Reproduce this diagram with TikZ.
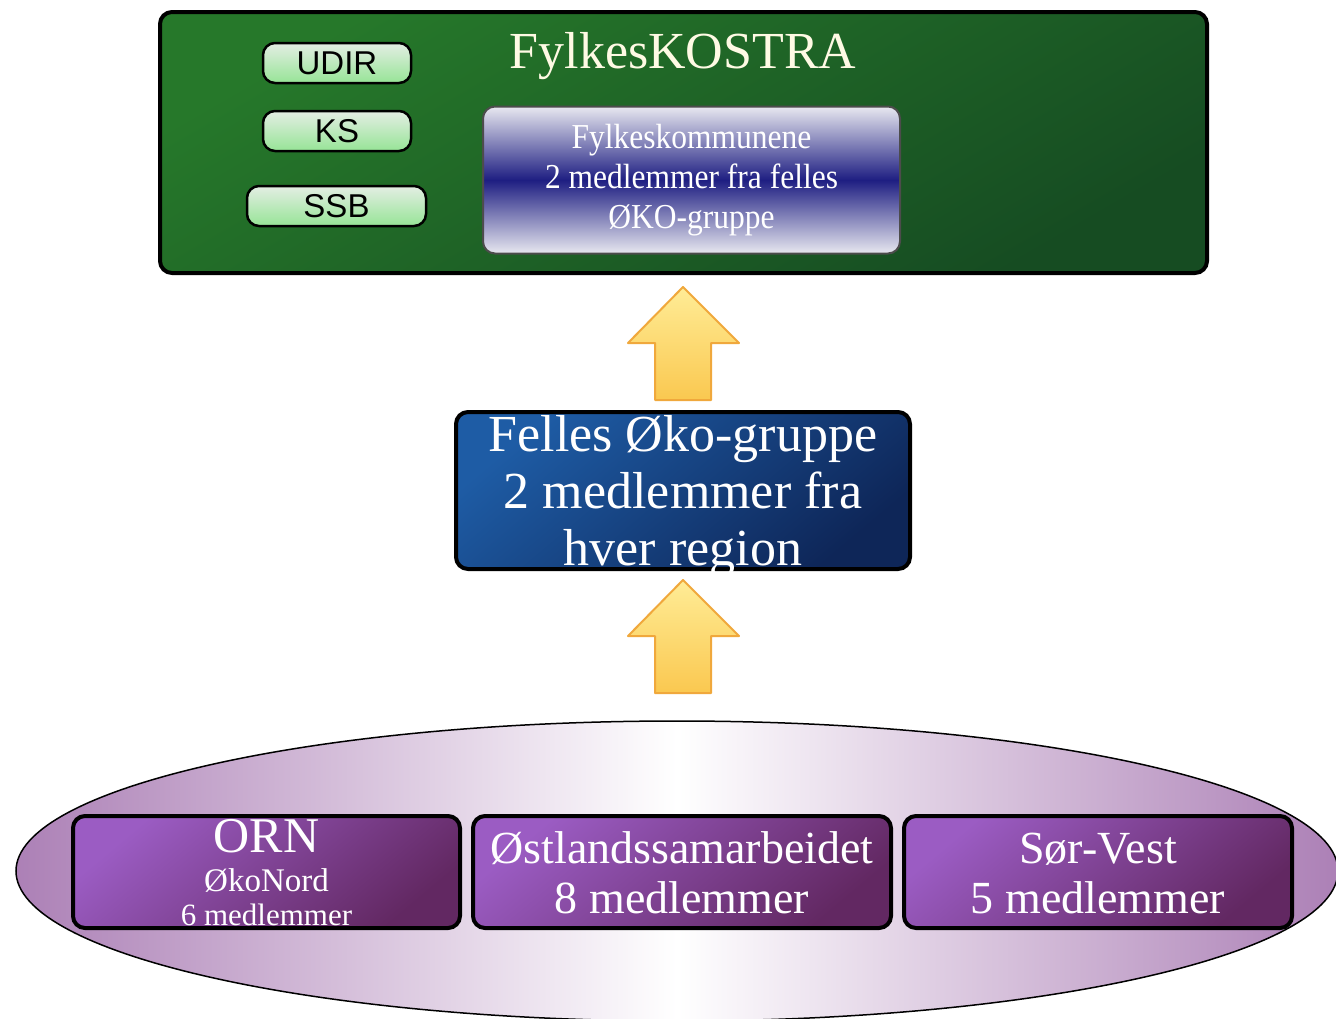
\documentclass[tikz,border=0pt]{standalone}
\usepackage{fontspec}
\setmainfont{Liberation Serif}
\newfontfamily\pillfont{Liberation Sans}
\newfontfamily\narrowserif[FakeStretch=0.9]{Liberation Serif}
\usetikzlibrary{shapes.geometric}
\definecolor{greenA}{RGB}{38,120,42}
\definecolor{greenB}{RGB}{22,76,34}
\definecolor{pillTop}{RGB}{228,238,228}
\definecolor{pillBot}{RGB}{150,228,150}
\definecolor{navyMid}{RGB}{30,30,130}
\definecolor{greyEnd}{RGB}{232,232,240}
\definecolor{blueA}{RGB}{30,92,165}
\definecolor{blueB}{RGB}{14,38,88}
\definecolor{purpA}{RGB}{155,92,195}
\definecolor{purpB}{RGB}{98,40,98}
\definecolor{ellPurp}{RGB}{172,128,182}
\definecolor{arrTop}{RGB}{255,236,150}
\definecolor{arrBot}{RGB}{250,200,80}
\definecolor{arrEdge}{RGB}{240,168,60}
\definecolor{cream}{RGB}{255,250,228}
\tikzset{
  box/.style={draw=black, line width=4pt, rounded corners=12pt, inner sep=0pt},
  greenbox/.style={box, top color=greenA, bottom color=greenB, shading angle=30},
  pillbox/.style={draw=black, line width=2.5pt, rounded corners=12pt, top color=pillTop, bottom color=pillBot, inner sep=0pt, text=black, font=\pillfont\fontsize{33}{36}\selectfont},
  navybox/.style={draw=black!70, line width=2pt, rounded corners=12pt, top color=greyEnd, bottom color=greyEnd, middle color=navyMid, inner sep=0pt, text=white, align=center, font=\narrowserif\fontsize{35}{40}\selectfont},
  bluebox/.style={box, top color=blueA, bottom color=blueB, shading angle=40},
  purpbox/.style={box, top color=purpA, bottom color=purpB, shading angle=40},
  purptext/.style={text=white, align=center, inner sep=0pt},
  blockarrow/.style={draw=arrEdge, line width=2pt, line join=round, top color=arrTop, bottom color=arrBot},
}
\begin{document}
\begin{tikzpicture}[x=1pt,y=-1pt]
\useasboundingbox (0,0) rectangle (1336,1018);
\fill[white] (0,0) rectangle (1336,1018);
% bottom ellipse
\begin{scope}
\clip (0,0) rectangle (1336,1018);
\node[ellipse, draw=black, line width=1.5pt, minimum width=1322pt, minimum height=300pt, inner sep=0pt,
      left color=ellPurp, right color=ellPurp, middle color=white] (regions) at (677,871) {};
\end{scope}
% top box
\node[greenbox, minimum width=1047pt, minimum height=261pt] (kostra) at (683.5,142.5) {};
\node[text=cream, font=\fontsize{52}{56}\selectfont, inner sep=0pt] (title) at (683,56) {FylkesKOSTRA};
\node[pillbox, minimum width=148pt, minimum height=40pt] (udir) at (337,63) {UDIR};
\node[pillbox, minimum width=148pt, minimum height=40pt] (ks) at (337,131) {KS};
\node[pillbox, minimum width=179pt, minimum height=40pt] (ssb) at (336.5,206) {SSB};
\node[navybox, minimum width=417pt, minimum height=147pt] (fylkes) at (691.5,180)
  {Fylkeskommunene\\2 medlemmer fra felles\\ØKO-gruppe};
% arrows
\path[blockarrow] (655,400) -- (655,343) -- (628,343) -- (683,287) -- (739,343) -- (711,343) -- (711,400) -- cycle;
\path[blockarrow] (655,693) -- (655,636) -- (628,636) -- (683,580) -- (739,636) -- (711,636) -- (711,693) -- cycle;
% middle box
\node[bluebox, minimum width=454pt, minimum height=157pt] (felles) at (683,490.5) {};
\node[text=white, align=center, inner sep=0pt, font=\fontsize{52}{57}\selectfont] (fellesT) at (683,496)
  {Felles Øko-gruppe\\2 medlemmer fra\\hver region};
% region boxes
\node[purpbox, minimum width=387pt, minimum height=112pt] (orn) at (266.5,872) {};
\node[purpbox, minimum width=418pt, minimum height=112pt] (ostland) at (682,872) {};
\node[purpbox, minimum width=388pt, minimum height=112pt] (sorvest) at (1098,872) {};
\node[purptext, font=\fontsize{50}{50}\selectfont] (ornA) at (266.5,836) {ORN};
\node[purptext, font=\fontsize{33}{33}\selectfont] (ornB) at (266.5,880) {ØkoNord};
\node[purptext, font=\fontsize{31}{31}\selectfont] (ornC) at (266.5,915) {6 medlemmer};
\node[purptext, font=\fontsize{46}{50}\selectfont] (ostlandT) at (682,873) {Østlandssamarbeidet\\8 medlemmer};
\node[purptext, font=\fontsize{46}{50}\selectfont] (sorvestT) at (1098,873) {Sør-Vest\\5 medlemmer};
\end{tikzpicture}
\end{document}
